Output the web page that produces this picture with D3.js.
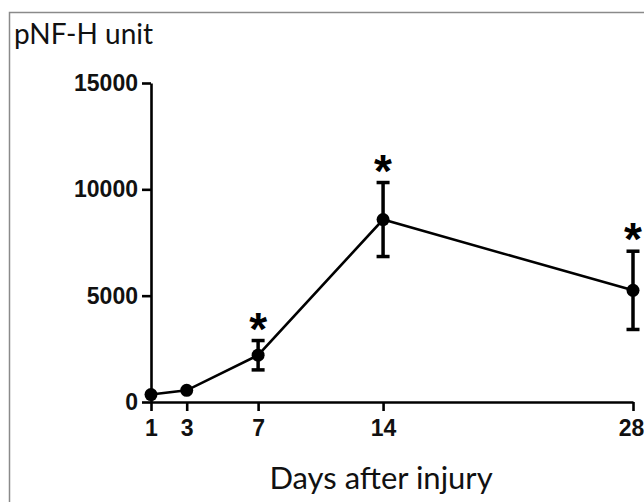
<!DOCTYPE html>
<html>
<head>
<meta charset="utf-8">
<script src="https://cdn.jsdelivr.net/npm/d3@7"></script>
<style>
  body { margin: 0; background: #fff; }
  svg { display: block; }
</style>
</head>
<body>
<div id="chart"></div>
<script>
// data (mean +/- SEM)
var days = [1, 3, 7, 14, 28];
var meanValues = [350, 550, 2200, 8580, 5250];
var semValues = [0, 0, 690, 1740, 1840];
var significant = [false, false, true, true, true];
var yTicks = [0, 5000, 10000, 15000];
var xTicks = [1, 3, 7, 14, 28];

var svgWidth = 644;
var svgHeight = 502;

var svg = d3.select("#chart")
  .append("svg")
  .attr("width", svgWidth)
  .attr("height", svgHeight);

// panel frame (runs off the right and bottom edge like in the figure)
svg.append("rect")
  .attr("x", 9.5)
  .attr("y", 12.5)
  .attr("width", 700)
  .attr("height", 600)
  .attr("fill", "none")
  .attr("stroke", "#8a8a8a")
  .attr("stroke-width", 1.5);

var xScale = d3.scaleLinear()
  .domain([1, 28])
  .range([151, 633]);

var yScale = d3.scaleLinear()
  .domain([0, 15000])
  .range([402, 83]);

var tickFont = "'Liberation Sans', Arial, sans-serif";

// axes
var xAxis = svg.append("g")
  .attr("transform", "translate(0,402)")
  .call(d3.axisBottom(xScale).tickValues(xTicks).tickSize(9).tickSizeOuter(0).tickPadding(9));

var yAxis = svg.append("g")
  .attr("transform", "translate(151,0)")
  .call(d3.axisLeft(yScale).tickValues(yTicks).tickSize(9).tickSizeOuter(0).tickPadding(4).tickFormat(d3.format("d")));

[xAxis, yAxis].forEach(function(ax) {
  ax.select(".domain").attr("stroke", "#000").attr("stroke-width", 2.6);
  ax.selectAll(".tick line").attr("stroke", "#000").attr("stroke-width", 2.6);
  ax.selectAll(".tick text")
    .attr("fill", "#111")
    .style("font-family", tickFont)
    .style("font-weight", "bold")
    .style("font-size", "23px");
});

// last label sits right at the frame edge, pull it in a little
xAxis.selectAll(".tick text")
  .filter(function(d) { return d == 28; })
  .attr("dx", -2);

// connecting line
var line = d3.line()
  .x(function(d, i) { return xScale(days[i]); })
  .y(function(d) { return yScale(d); });

svg.append("path")
  .datum(meanValues)
  .attr("d", line)
  .attr("fill", "none")
  .attr("stroke", "#000")
  .attr("stroke-width", 2.6);

// error bars
var errGroup = svg.selectAll(".err")
  .data(days.map(function(d, i) { return { day: d, mean: meanValues[i], sem: semValues[i], sig: significant[i] }; }))
  .enter()
  .append("g")
  .attr("class", "err");

errGroup.filter(function(d) { return d.sem > 0; })
  .append("line")
  .attr("x1", function(d) { return xScale(d.day); })
  .attr("x2", function(d) { return xScale(d.day); })
  .attr("y1", function(d) { return yScale(d.mean + d.sem); })
  .attr("y2", function(d) { return yScale(d.mean - d.sem); })
  .attr("stroke", "#000")
  .attr("stroke-width", 3.5);

["top", "bottom"].forEach(function(side) {
  errGroup.filter(function(d) { return d.sem > 0; })
    .append("line")
    .attr("x1", function(d) { return xScale(d.day) - 6.5; })
    .attr("x2", function(d) { return xScale(d.day) + 6.5; })
    .attr("y1", function(d) { return yScale(side == "top" ? d.mean + d.sem : d.mean - d.sem); })
    .attr("y2", function(d) { return yScale(side == "top" ? d.mean + d.sem : d.mean - d.sem); })
    .attr("stroke", "#000")
    .attr("stroke-width", 3.5);
});

// points
errGroup.append("circle")
  .attr("cx", function(d) { return xScale(d.day); })
  .attr("cy", function(d) { return yScale(d.mean); })
  .attr("r", 6.5)
  .attr("fill", "#000");

// significance stars
errGroup.filter(function(d) { return d.sig; })
  .append("text")
  .attr("x", function(d) { return xScale(d.day); })
  .attr("y", function(d) { return yScale(d.mean + d.sem) + 4; })
  .attr("text-anchor", "middle")
  .style("font-family", tickFont)
  .style("font-weight", "bold")
  .style("font-size", "46px")
  .text("*");

// titles
svg.append("text")
  .attr("x", 14)
  .attr("y", 44)
  .style("font-family", "Lato, sans-serif")
  .style("font-size", "28px")
  .attr("fill", "#111")
  .text("pNF-H unit");

svg.append("text")
  .attr("x", 381)
  .attr("y", 489)
  .attr("text-anchor", "middle")
  .style("font-family", "Lato, sans-serif")
  .style("font-size", "31px")
  .attr("fill", "#111")
  .text("Days after injury");
</script>
</body>
</html>
